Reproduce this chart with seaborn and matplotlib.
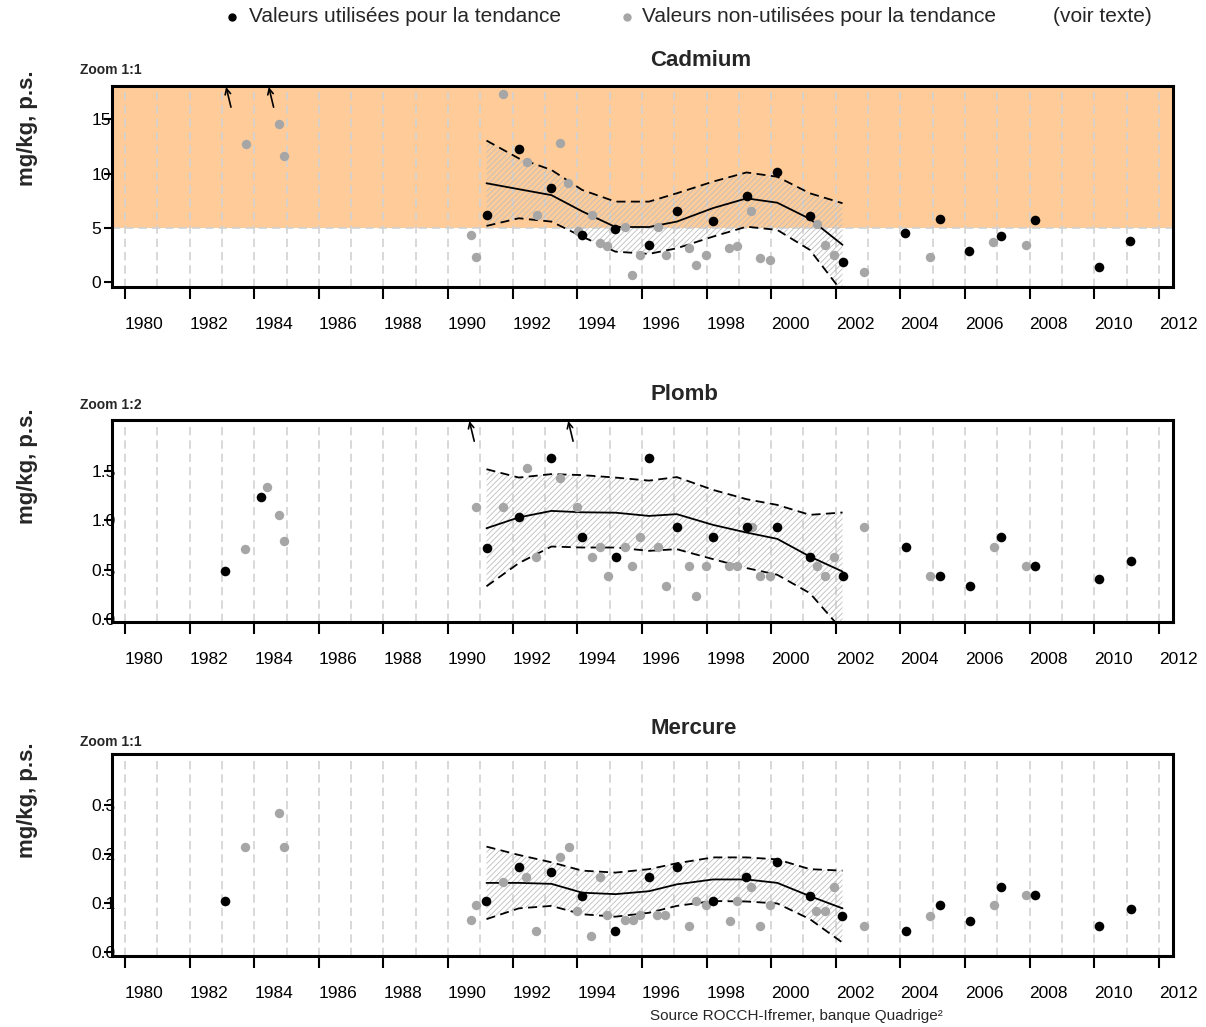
import numpy as np
import pandas as pd
import matplotlib
matplotlib.use("Agg")
import matplotlib.pyplot as plt
from matplotlib.lines import Line2D
import seaborn as sns

# ---------------------------------------------------------------- data
# Cadmium (mg/kg, p.s.)
cd_used_years = [1991.19, 1992.19, 1993.20, 1994.15, 1995.18, 1996.22, 1997.08, 1998.20,
                 1999.24, 2000.19, 2001.20, 2002.21, 2004.15, 2005.22, 2006.13, 2007.12,
                 2008.16, 2010.14, 2011.12]
cd_used_vals = [6.15, 12.25, 8.7, 4.35, 4.84, 3.39, 6.54, 5.58, 7.93, 10.1, 6.07, 1.84,
                4.5, 5.75, 2.85, 4.18, 5.7, 1.37, 3.72]
cd_unused_years = [1983.74, 1984.77, 1984.92, 1990.71, 1990.87, 1991.70, 1992.43, 1992.74,
                   1993.48, 1993.72, 1994.01, 1994.46, 1994.70, 1994.93, 1995.49, 1995.70,
                   1995.95, 1996.50, 1996.74, 1997.47, 1997.67, 1997.98, 1998.71, 1998.93,
                   1999.38, 1999.65, 1999.96, 2001.43, 2001.68, 2001.95, 2002.87, 2004.91,
                   2006.88, 2007.90]
cd_unused_vals = [12.7, 14.6, 11.6, 4.35, 2.3, 17.4, 11.05, 6.17, 12.86, 9.16, 4.69, 6.17,
                  3.54, 3.3, 5.08, 0.61, 2.46, 5.08, 2.46, 3.14, 1.54, 2.46, 3.08, 3.3,
                  6.54, 2.16, 2.0, 5.3, 3.39, 2.46, 0.92, 2.3, 3.7, 3.42]
cd_offscale_years = [1983.13, 1984.45]
cd_trend_mid = [9.1, 8.55, 8.0, 6.5, 5.05, 5.05, 5.55, 6.8, 7.7, 7.3, 5.8, 3.4]
cd_trend_hi = [13.05, 11.4, 10.33, 8.48, 7.4, 7.4, 8.17, 9.25, 10.1, 9.7, 8.17, 7.25]
cd_trend_lo = [5.15, 5.86, 5.55, 4.16, 2.77, 2.56, 3.08, 4.16, 5.08, 4.78, 2.93, -1.0]
cd_threshold = 5.0

# Plomb (mg/kg, p.s.)
pb_used_years = [1983.10, 1984.20, 1991.19, 1992.19, 1993.20, 1994.15, 1995.19, 1996.22,
                 1997.08, 1998.20, 1999.24, 2000.19, 2001.20, 2002.21, 2004.17, 2005.22,
                 2006.15, 2007.13, 2008.16, 2010.14, 2011.13]
pb_used_vals = [0.49, 1.235, 0.724, 1.03, 1.63, 0.83, 0.626, 1.63, 0.93, 0.83, 0.93, 0.93,
                0.626, 0.437, 0.728, 0.437, 0.335, 0.83, 0.54, 0.403, 0.592]
pb_unused_years = [1983.71, 1984.41, 1984.77, 1984.92, 1990.88, 1991.71, 1992.43, 1992.72,
                   1993.48, 1993.99, 1994.46, 1994.70, 1994.94, 1995.49, 1995.70, 1995.95,
                   1996.50, 1996.74, 1997.47, 1997.67, 1997.98, 1998.69, 1998.93, 1999.40,
                   1999.65, 1999.96, 2001.43, 2001.68, 2001.95, 2002.87, 2004.91, 2006.91,
                   2007.90]
pb_unused_vals = [0.708, 1.343, 1.056, 0.795, 1.134, 1.134, 1.53, 0.626, 1.43, 1.14, 0.626,
                  0.728, 0.437, 0.728, 0.54, 0.83, 0.728, 0.335, 0.54, 0.233, 0.54, 0.54,
                  0.54, 0.93, 0.437, 0.437, 0.54, 0.437, 0.626, 0.937, 0.437, 0.728, 0.54]
pb_offscale_years = [1990.66, 1993.72]
pb_trend_mid = [0.92, 1.03, 1.096, 1.082, 1.078, 1.045, 1.063, 0.954, 0.876, 0.812, 0.632, 0.48]
pb_trend_hi = [1.52, 1.435, 1.47, 1.46, 1.435, 1.404, 1.44, 1.31, 1.215, 1.157, 1.056, 1.08]
pb_trend_lo = [0.33, 0.565, 0.734, 0.724, 0.724, 0.69, 0.707, 0.606, 0.515, 0.447, 0.26, -0.12]

# Mercure (mg/kg, p.s.)
hg_used_years = [1983.10, 1991.18, 1992.20, 1993.20, 1994.14, 1995.18, 1996.22, 1997.09,
                 1998.20, 1999.22, 2000.17, 2001.21, 2002.19, 2004.17, 2005.22, 2006.15,
                 2007.13, 2008.16, 2010.14, 2011.13]
hg_used_vals = [0.105, 0.105, 0.174, 0.164, 0.115, 0.043, 0.154, 0.174, 0.105, 0.154, 0.184,
                0.114, 0.074, 0.043, 0.096, 0.064, 0.133, 0.116, 0.054, 0.088]
hg_unused_years = [1983.71, 1984.77, 1984.92, 1990.71, 1990.87, 1991.70, 1992.40, 1992.72,
                   1993.47, 1993.73, 1994.00, 1994.44, 1994.69, 1994.93, 1995.48, 1995.72,
                   1995.93, 1996.47, 1996.73, 1997.47, 1997.69, 1997.99, 1998.73, 1998.94,
                   1999.39, 1999.65, 1999.96, 2001.40, 2001.67, 2001.94, 2002.87, 2004.91,
                   2006.91, 2007.90]
hg_unused_vals = [0.215, 0.284, 0.215, 0.065, 0.096, 0.142, 0.154, 0.043, 0.194, 0.215,
                  0.084, 0.033, 0.154, 0.075, 0.065, 0.065, 0.075, 0.075, 0.075, 0.054,
                  0.105, 0.096, 0.064, 0.105, 0.133, 0.054, 0.096, 0.084, 0.084, 0.133,
                  0.054, 0.074, 0.096, 0.116]
hg_offscale_years = []
hg_trend_mid = [0.141, 0.141, 0.139, 0.121, 0.118, 0.124, 0.138, 0.148, 0.148, 0.141, 0.114, 0.089]
hg_trend_hi = [0.215, 0.198, 0.183, 0.166, 0.162, 0.169, 0.181, 0.193, 0.193, 0.189, 0.169, 0.166]
hg_trend_lo = [0.067, 0.089, 0.094, 0.077, 0.072, 0.08, 0.094, 0.104, 0.103, 0.099, 0.067, 0.019]

# dates at which the trend is evaluated
trend_years = [1991.19, 1992.19, 1993.20, 1994.15, 1995.18, 1996.22, 1997.08, 1998.20,
               1999.24, 2000.19, 2001.20, 2002.21]

year_ticks = list(range(1980, 2013, 2))

# ---------------------------------------------------------------- style
sns.set_theme(style="white")
plt.rcParams["font.family"] = ["Liberation Sans", "DejaVu Sans"]
plt.rcParams["hatch.linewidth"] = 0.6

BLACK = "#000000"
GREY = "#a6a6a6"
ORANGE = "#FFCC99"
GRID = "#d2d2d2"

fig = plt.figure(figsize=(12.06, 10.27), dpi=100)

W, H = 1206.0, 1027.0


def rect(left, top, right, bottom):
    return [left / W, 1 - bottom / H, (right - left) / W, (bottom - top) / H]


panels = [
    dict(name="Cadmium", zoom="Zoom 1:1", box=rect(112, 86, 1172.7, 287.3),
         ylim=(-0.53, 18.1), yticks=[0, 5, 10, 15], ylabels=["0", "5", "10", "15"],
         used=(cd_used_years, cd_used_vals), unused=(cd_unused_years, cd_unused_vals),
         trend=(cd_trend_mid, cd_trend_lo, cd_trend_hi), off=cd_offscale_years,
         threshold=cd_threshold, title_y=60, zoom_y=70, ylab_y=128),
    dict(name="Plomb", zoom="Zoom 1:2", box=rect(112, 420, 1172.7, 621.7),
         ylim=(-0.03, 2.02), yticks=[0, 0.5, 1.0, 1.5], ylabels=["0.0", "0.5", "1.0", "1.5"],
         used=(pb_used_years, pb_used_vals), unused=(pb_unused_years, pb_unused_vals),
         trend=(pb_trend_mid, pb_trend_lo, pb_trend_hi), off=pb_offscale_years,
         threshold=None, title_y=394, zoom_y=405, ylab_y=466),
    dict(name="Mercure", zoom="Zoom 1:1", box=rect(112, 754, 1172.7, 955.7),
         ylim=(-0.0076, 0.404), yticks=[0, 0.1, 0.2, 0.3], ylabels=["0.0", "0.1", "0.2", "0.3"],
         used=(hg_used_years, hg_used_vals), unused=(hg_unused_years, hg_unused_vals),
         trend=(hg_trend_mid, hg_trend_lo, hg_trend_hi), off=hg_offscale_years,
         threshold=None, title_y=729, zoom_y=742, ylab_y=800),
]

for p in panels:
    ax = fig.add_axes(p["box"])
    ax.set_xlim(1979.598, 2012.43)
    ax.set_ylim(*p["ylim"])

    # zone above the threshold
    if p["threshold"] is not None:
        ax.axhspan(p["threshold"], p["ylim"][1], color=ORANGE, lw=0, zorder=0)
        ax.axhline(p["threshold"], color=GRID, lw=1.2, ls=(0, (5, 3)), zorder=0.6)

    # yearly dashed grid
    for yr in range(1980, 2013):
        ax.axvline(yr, color=GRID, lw=1.2, ls=(0, (5, 3)), zorder=0.5)

    mid, lo, hi = p["trend"]
    trend = pd.DataFrame({"annee": trend_years, "mid": mid, "lo": lo, "hi": hi})
    ax.fill_between(trend["annee"], trend["lo"], trend["hi"], facecolor="none",
                    edgecolor="#bdbdbd", hatch="//////", lw=0, zorder=1)
    sns.lineplot(data=trend, x="annee", y="mid", ax=ax, color=BLACK, lw=1.3,
                 sort=False, estimator=None, zorder=2)
    for col in ("lo", "hi"):
        sns.lineplot(data=trend, x="annee", y=col, ax=ax, color=BLACK, lw=1.3,
                     linestyle=(0, (5, 3)), sort=False, estimator=None, zorder=2)

    unused = pd.DataFrame({"annee": p["unused"][0], "valeur": p["unused"][1]})
    used = pd.DataFrame({"annee": p["used"][0], "valeur": p["used"][1]})
    sns.scatterplot(data=unused, x="annee", y="valeur", ax=ax, color=GREY, s=46,
                    linewidth=0, zorder=3, clip_on=True)
    sns.scatterplot(data=used, x="annee", y="valeur", ax=ax, color=BLACK, s=48,
                    linewidth=0, zorder=4, clip_on=True)

    # values outside the displayed range
    for yr in p["off"]:
        ax.annotate("", xy=(yr, 0.995), xytext=(yr + 0.15, 0.895),
                    xycoords=("data", "axes fraction"), textcoords=("data", "axes fraction"),
                    arrowprops=dict(arrowstyle="->", lw=1.2, color=BLACK,
                                    shrinkA=0, shrinkB=0, mutation_scale=10))

    ax.set_xlabel("")
    ax.set_ylabel("")
    ax.set_xticks(year_ticks)
    ax.set_xticklabels([str(y) for y in year_ticks])
    ax.set_yticks(p["yticks"])
    ax.set_yticklabels(p["ylabels"])
    ax.tick_params(axis="x", length=8.5, width=1.5, pad=13, labelsize=12.5,
                   colors=BLACK, direction="out", bottom=True)
    ax.tick_params(axis="y", length=6, width=1.5, pad=9, labelsize=12.5,
                   colors=BLACK, direction="out", left=True)
    for lab in ax.get_xticklabels():
        lab.set_ha("left")
    for lab in ax.get_yticklabels():
        lab.set_ha("left")
    for sp in ax.spines.values():
        sp.set_visible(True)
        sp.set_color(BLACK)
        sp.set_linewidth(2.2)
    ax.grid(False)

    fig.text(650 / W, 1 - p["title_y"] / H, p["name"], ha="left", va="center",
             fontsize=16, fontweight="bold")
    fig.text(80 / W, 1 - p["zoom_y"] / H, p["zoom"], ha="left", va="center",
             fontsize=10, fontweight="bold")
    fig.text(28 / W, 1 - p["ylab_y"] / H, "mg/kg, p.s.", ha="center", va="center",
             rotation=90, fontsize=16, fontweight="bold")

# legend line at the top
ly = 1 - 17 / H
fig.add_artist(Line2D([232 / W], [ly], transform=fig.transFigure, marker="o", ms=5,
                      color=BLACK, lw=0))
fig.text(249 / W, ly, "Valeurs utilisées pour la tendance", ha="left", va="center",
         fontsize=15)
fig.add_artist(Line2D([627 / W], [ly], transform=fig.transFigure, marker="o", ms=5,
                      color=GREY, lw=0))
fig.text(642 / W, ly, "Valeurs non-utilisées pour la tendance", ha="left", va="center",
         fontsize=15)
fig.text(1053 / W, ly, "(voir texte)", ha="left", va="center", fontsize=15)

fig.text(796 / W, 1 - 1016 / H, "Source ROCCH-Ifremer, banque Quadrige²", ha="center",
         va="center", fontsize=11)

fig.savefig("out.png", dpi=100)
